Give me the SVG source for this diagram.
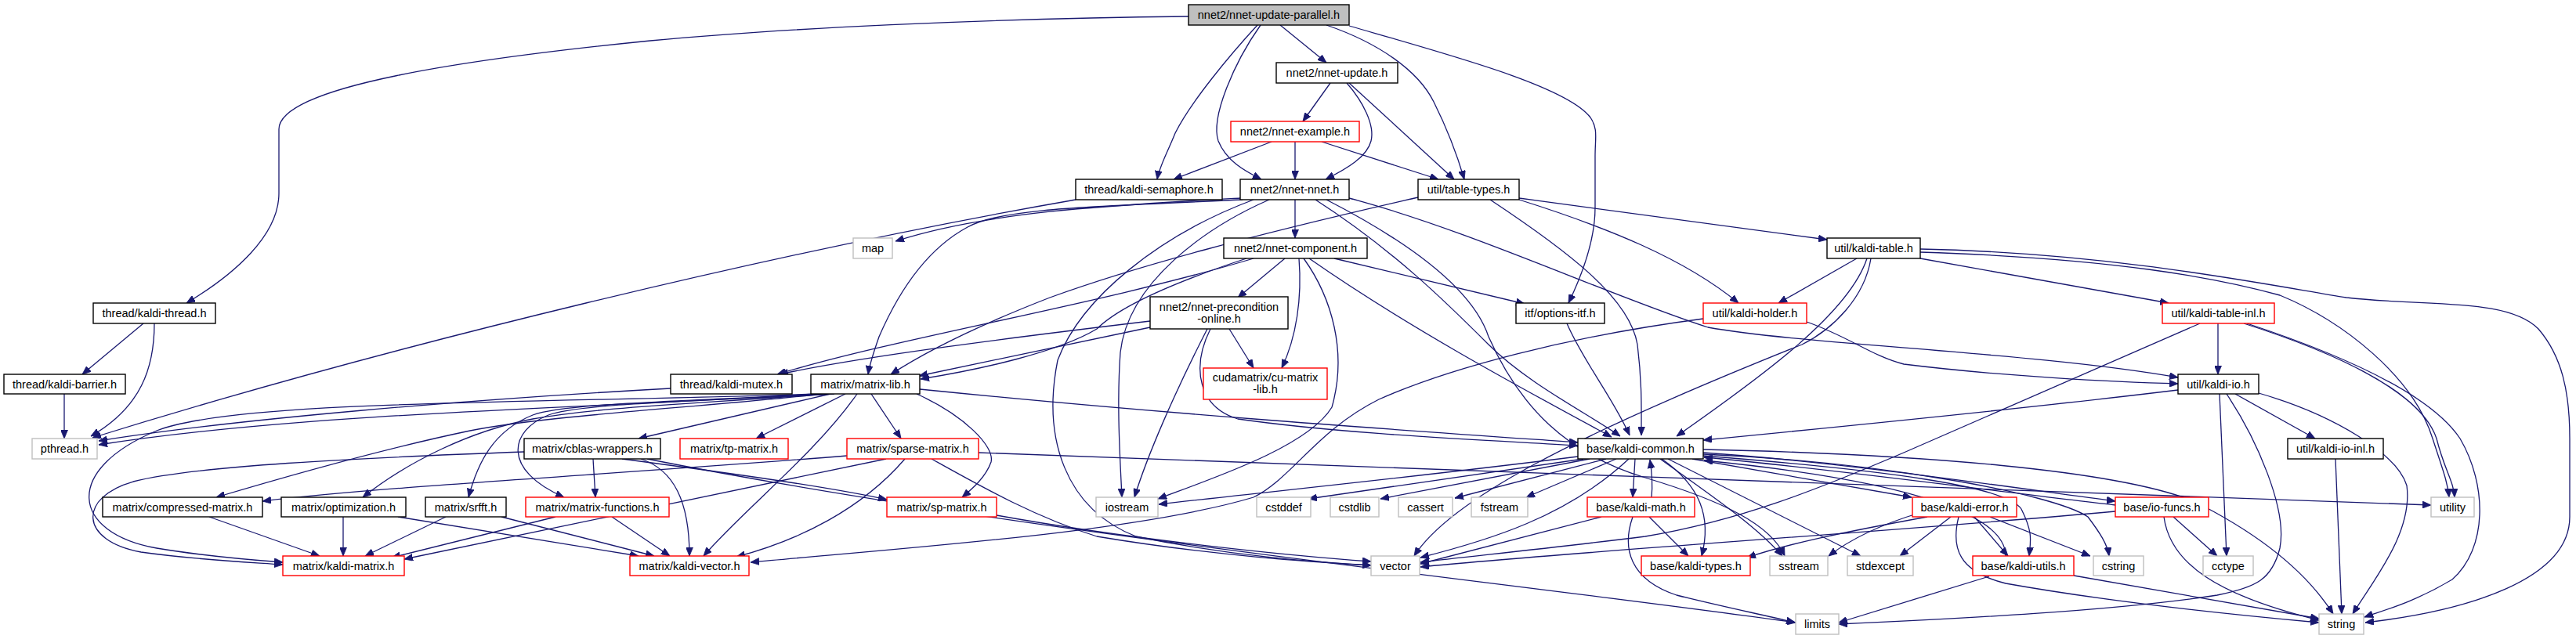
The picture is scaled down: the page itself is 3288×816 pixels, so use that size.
<svg xmlns="http://www.w3.org/2000/svg" width="3288" height="816" viewBox="0 0 3288 816">
<defs>
<marker id="a" viewBox="0 0 11 9" refX="11" refY="4.5" markerWidth="11" markerHeight="9" markerUnits="userSpaceOnUse" orient="auto">
<path d="M0,0 L11,4.5 L0,9 z" fill="#191970" stroke="#191970" stroke-width="0.8"/>
</marker>
<style>
.e{fill:none;stroke:#191970;stroke-width:1.3;marker-end:url(#a)}
.b{fill:#fff;stroke:#000;stroke-width:1.4}
.r{fill:#fff;stroke:#f00;stroke-width:1.4}
.g{fill:#fff;stroke:#bfbfbf;stroke-width:1.4}
.rt{fill:#bfbfbf;stroke:#000;stroke-width:1.4}
text{font-family:"Liberation Sans",Arial,sans-serif;font-size:14.5px;text-anchor:middle;fill:#000}
</style>
</defs>
<rect width="3288" height="816" fill="#fff"/>
<g id="connectors">
<path class="e" d="M1517,21 C1250,24 1000,36 830,52 C600,75 356,110 356,165 L356,247 C356,300 300,350 238,387"/>
<path class="e" d="M1605,32 C1570,70 1520,130 1500,170 C1490,195 1480,212 1477,229"/>
<path class="e" d="M1609,32 C1575,80 1545,150 1555,180 C1565,205 1588,218 1610,229"/>
<path class="e" d="M1634,32 L1693,80"/>
<path class="e" d="M1693,32 C1760,55 1810,90 1830,130 C1850,170 1862,205 1869,229"/>
<path class="e" d="M1722,33 C1850,70 2000,110 2030,150 C2040,165 2036,175 2036,200 L2036,265 C2036,310 2015,360 2002,387"/>
<path class="e" d="M1698,106 L1663,155"/>
<path class="e" d="M1719,106 C1740,130 1755,160 1750,180 C1745,200 1720,215 1692,229"/>
<path class="e" d="M1722,106 L1856,229"/>
<path class="e" d="M1623,181 L1498,229"/>
<path class="e" d="M1653,181 L1653,229"/>
<path class="e" d="M1687,181 L1836,229"/>
<path class="e" d="M1373,255 C1000,320 500,440 118,559"/>
<path class="e" d="M1583,253 C1420,262 1260,270 1143,308"/>
<path class="e" d="M1586,255 C1400,264 1280,265 1235,290 C1170,325 1135,400 1122,430 C1115,450 1110,465 1108,478"/>
<path class="e" d="M1653,255 L1653,304"/>
<path class="e" d="M1620,255 C1540,290 1440,360 1430,450 C1425,520 1430,590 1432,635"/>
<path class="e" d="M1600,255 C1480,300 1380,380 1350,460 C1330,560 1360,650 1450,685 C1580,712 1690,718 1750,722"/>
<path class="e" d="M1679,255 C1780,320 1850,390 1900,440 C1950,490 2030,530 2068,557"/>
<path class="e" d="M1693,255 C1800,310 1880,370 1900,430 C1940,520 2000,580 2100,610 C2200,640 2260,670 2278,710"/>
<path class="e" d="M1722,253 C1880,295 2060,380 2180,418 C2300,440 2600,450 2780,482"/>
<path class="e" d="M1810,252 C1600,300 1450,340 1340,380 C1250,415 1180,450 1137,478"/>
<path class="e" d="M1902,255 C2000,320 2080,380 2090,440 C2096,490 2095,520 2095,556"/>
<path class="e" d="M1939,255 C2050,290 2150,330 2219,387"/>
<path class="e" d="M1939,253 L2332,306"/>
<path class="e" d="M1600,330 C1400,390 1150,430 992,478"/>
<path class="e" d="M1591,330 C1500,360 1430,390 1400,420 C1350,450 1250,472 1175,484"/>
<path class="e" d="M1640,330 L1580,380"/>
<path class="e" d="M1658,330 C1662,380 1655,430 1636,470"/>
<path class="e" d="M1664,330 C1700,380 1720,450 1700,520 C1670,570 1550,610 1478,637"/>
<path class="e" d="M1671,330 C1800,420 1950,500 2057,558"/>
<path class="e" d="M1703,330 L1946,388"/>
<path class="e" d="M2370,330 L2270,387"/>
<path class="e" d="M2451,330 L2768,387"/>
<path class="e" d="M2383,330 C2360,400 2250,480 2140,557"/>
<path class="e" d="M2388,330 C2380,380 2340,420 2300,440 C2000,560 1850,640 1805,710"/>
<path class="e" d="M2451,322 C2700,330 2830,355 2910,377 C2990,410 3080,480 3105,560 C3118,600 3124,615 3126,635"/>
<path class="e" d="M2451,318 C2700,323 2900,365 2995,380 C3100,392 3200,380 3240,420 C3270,455 3280,500 3280,560 L3280,660 C3280,740 3150,780 3019,795"/>
<path class="e" d="M183,413 L105,478"/>
<path class="e" d="M197,413 C197,470 180,520 116,557"/>
<path class="e" d="M1468,410 C1300,430 1100,455 995,478"/>
<path class="e" d="M1468,418 L1173,480"/>
<path class="e" d="M1569,420 L1600,470"/>
<path class="e" d="M1541,420 C1500,500 1465,580 1448,635"/>
<path class="e" d="M1545,420 C1520,470 1530,520 1580,535 C1720,555 1900,562 2014,569"/>
<path class="e" d="M2000,413 C2020,460 2060,510 2080,556"/>
<path class="e" d="M2306,411 C2360,430 2390,455 2430,465 C2550,480 2700,488 2780,490"/>
<path class="e" d="M2174,407 C2000,430 1850,470 1760,510 C1680,550 1650,610 1600,635 C1450,680 1150,700 958,718"/>
<path class="e" d="M2831,413 L2831,478"/>
<path class="e" d="M2808,413 L2430,578 C2320,625 2220,665 2100,685 C1980,700 1880,710 1813,718"/>
<path class="e" d="M2864,413 C2980,450 3090,500 3110,560 C3120,600 3132,615 3133,635"/>
<path class="e" d="M2868,413 C2980,450 3100,500 3140,560 C3175,620 3175,700 3130,740 C3080,770 3040,780 3018,788"/>
<path class="e" d="M82,503 L82,560"/>
<path class="e" d="M856,496 C600,510 300,535 126,563"/>
<path class="e" d="M1040,503 C800,520 400,525 126,568"/>
<path class="e" d="M1060,503 L815,560"/>
<path class="e" d="M1079,503 L965,560"/>
<path class="e" d="M1112,503 L1150,560"/>
<path class="e" d="M1050,503 C900,520 700,530 600,550 C480,575 360,610 276,635"/>
<path class="e" d="M1055,503 C900,515 760,520 680,535 C600,550 520,590 463,635"/>
<path class="e" d="M1060,503 C880,512 720,515 680,530 C630,550 610,590 598,635"/>
<path class="e" d="M1065,503 C900,512 740,515 700,530 C650,550 640,600 720,635"/>
<path class="e" d="M1045,503 C700,515 300,510 200,550 C80,600 90,680 200,700 C260,710 320,715 361,718"/>
<path class="e" d="M1094,503 C1040,580 950,650 898,710"/>
<path class="e" d="M1170,503 C1230,530 1270,570 1265,590 C1258,610 1240,625 1228,635"/>
<path class="e" d="M1174,497 C1500,530 1800,550 2014,565"/>
<path class="e" d="M2780,498 C2600,520 2400,540 2174,562"/>
<path class="e" d="M2833,503 L2842,710"/>
<path class="e" d="M2842,503 C2880,560 2920,650 2910,700 C2900,740 2880,750 2830,760 C2700,780 2500,790 2347,797"/>
<path class="e" d="M2853,503 L2955,560"/>
<path class="e" d="M2883,502 C2980,530 3060,580 3072,620 C3080,680 3030,740 3003,784"/>
<path class="e" d="M669,577 C450,585 250,595 170,615 C100,635 100,690 180,705 C250,715 320,718 361,721"/>
<path class="e" d="M757,586 L760,635"/>
<path class="e" d="M794,586 C900,600 1050,620 1132,638"/>
<path class="e" d="M818,586 C860,600 880,640 880,710"/>
<path class="e" d="M826,586 C1300,680 1900,740 2292,795"/>
<path class="e" d="M1081,582 C800,605 500,620 335,640"/>
<path class="e" d="M1131,586 L516,714"/>
<path class="e" d="M1155,586 C1100,650 1020,690 940,711"/>
<path class="e" d="M1189,586 C1250,620 1320,660 1400,685 C1550,710 1680,718 1750,722"/>
<path class="e" d="M1249,578 C1800,600 2600,625 3103,645"/>
<path class="e" d="M267,660 L408,710"/>
<path class="e" d="M438,660 L438,710"/>
<path class="e" d="M508,660 L815,710"/>
<path class="e" d="M569,660 L466,710"/>
<path class="e" d="M640,660 L835,710"/>
<path class="e" d="M709,660 L500,712"/>
<path class="e" d="M781,660 L855,710"/>
<path class="e" d="M1272,658 C1450,690 1650,710 1750,717"/>
<path class="e" d="M2021,586 L1670,637"/>
<path class="e" d="M2029,586 L1762,637"/>
<path class="e" d="M2050,586 L1857,636"/>
<path class="e" d="M2063,586 L1948,635"/>
<path class="e" d="M2087,586 L2084,635"/>
<path class="e" d="M2079,586 C2000,660 1900,690 1813,712"/>
<path class="e" d="M2121,586 C2170,620 2185,660 2172,710"/>
<path class="e" d="M2119,586 C2180,630 2240,670 2275,710"/>
<path class="e" d="M2129,586 L2375,710"/>
<path class="e" d="M2014,583 C1800,610 1600,630 1479,644"/>
<path class="e" d="M2174,578 C2350,590 2550,620 2700,640"/>
<path class="e" d="M2160,586 L2440,635"/>
<path class="e" d="M2174,582 C2400,600 2560,620 2580,650 C2595,680 2592,690 2590,710"/>
<path class="e" d="M2174,580 C2400,590 2620,630 2665,660 C2680,680 2690,695 2692,710"/>
<path class="e" d="M2174,574 C2450,580 2700,600 2800,640 C2900,690 2950,740 2978,784"/>
<path class="e" d="M2700,645 C2550,628 2350,600 2175,584"/>
<path class="e" d="M2560,710 C2560,660 2450,615 2175,588"/>
<path class="e" d="M2108,635 C2110,615 2108,600 2106,587"/>
<path class="e" d="M2044,660 L1813,720"/>
<path class="e" d="M2105,660 L2155,710"/>
<path class="e" d="M2084,660 C2070,700 2080,740 2140,760 C2200,775 2250,785 2291,795"/>
<path class="e" d="M2490,660 L2425,710"/>
<path class="e" d="M2520,660 L2563,710"/>
<path class="e" d="M2540,660 L2668,710"/>
<path class="e" d="M2500,660 C2490,700 2500,730 2560,745 C2700,770 2850,785 2960,795"/>
<path class="e" d="M2460,660 C2350,680 2280,695 2230,712"/>
<path class="e" d="M2450,655 C2400,670 2360,690 2334,710"/>
<path class="e" d="M2774,660 L2830,710"/>
<path class="e" d="M2762,660 C2770,720 2830,760 2960,792"/>
<path class="e" d="M2700,653 C2400,680 2000,705 1813,724"/>
<path class="e" d="M2539,736 L2347,795"/>
<path class="e" d="M2647,735 L2960,790"/>
<path class="e" d="M2981,586 L2989,784"/>
</g>
<g id="root"><rect class="rt" x="1517" y="6" width="205" height="26"/><text x="1619.5" y="24">nnet2/nnet-update-parallel.h</text></g>
<g id="nnet-update"><rect class="b" x="1629" y="80" width="155" height="26"/><text x="1706.5" y="98">nnet2/nnet-update.h</text></g>
<g id="nnet-example"><rect class="r" x="1571" y="155" width="164" height="26"/><text x="1653" y="173">nnet2/nnet-example.h</text></g>
<g id="kaldi-semaphore"><rect class="b" x="1373" y="229" width="187" height="26"/><text x="1466.5" y="247">thread/kaldi-semaphore.h</text></g>
<g id="nnet-nnet"><rect class="b" x="1583" y="229" width="139" height="26"/><text x="1652.5" y="247">nnet2/nnet-nnet.h</text></g>
<g id="table-types"><rect class="b" x="1810" y="229" width="129" height="26"/><text x="1874.5" y="247">util/table-types.h</text></g>
<g id="map"><rect class="g" x="1089" y="304" width="50" height="26"/><text x="1114" y="322">map</text></g>
<g id="nnet-component"><rect class="b" x="1562" y="304" width="183" height="26"/><text x="1653.5" y="322">nnet2/nnet-component.h</text></g>
<g id="kaldi-table"><rect class="b" x="2332" y="304" width="119" height="26"/><text x="2391.5" y="322">util/kaldi-table.h</text></g>
<g id="kaldi-thread"><rect class="b" x="119" y="387" width="156" height="26"/><text x="197" y="405">thread/kaldi-thread.h</text></g>
<g id="nnet-precondition-online"><rect class="b" x="1468" y="379" width="176" height="41"/><text x="1556" y="397">nnet2/nnet-precondition</text><text x="1556" y="412">-online.h</text></g>
<g id="options-itf"><rect class="b" x="1935" y="387" width="113" height="26"/><text x="1991.5" y="405">itf/options-itf.h</text></g>
<g id="kaldi-holder"><rect class="r" x="2174" y="387" width="132" height="26"/><text x="2240" y="405">util/kaldi-holder.h</text></g>
<g id="kaldi-table-inl"><rect class="r" x="2760" y="387" width="143" height="26"/><text x="2831.5" y="405">util/kaldi-table-inl.h</text></g>
<g id="kaldi-barrier"><rect class="b" x="5" y="478" width="155" height="25"/><text x="82.5" y="495.5">thread/kaldi-barrier.h</text></g>
<g id="kaldi-mutex"><rect class="b" x="856" y="478" width="155" height="25"/><text x="933.5" y="495.5">thread/kaldi-mutex.h</text></g>
<g id="matrix-lib"><rect class="b" x="1035" y="478" width="139" height="25"/><text x="1104.5" y="495.5">matrix/matrix-lib.h</text></g>
<g id="cu-matrix-lib"><rect class="r" x="1536" y="470" width="158" height="40"/><text x="1615" y="487">cudamatrix/cu-matrix</text><text x="1615" y="502">-lib.h</text></g>
<g id="kaldi-io"><rect class="b" x="2780" y="478" width="103" height="25"/><text x="2831.5" y="495.5">util/kaldi-io.h</text></g>
<g id="pthread"><rect class="g" x="41" y="560" width="83" height="26"/><text x="82.5" y="578">pthread.h</text></g>
<g id="cblas-wrappers"><rect class="b" x="669" y="560" width="174" height="26"/><text x="756" y="578">matrix/cblas-wrappers.h</text></g>
<g id="tp-matrix"><rect class="r" x="868" y="560" width="138" height="26"/><text x="937" y="578">matrix/tp-matrix.h</text></g>
<g id="sparse-matrix"><rect class="r" x="1081" y="560" width="168" height="26"/><text x="1165" y="578">matrix/sparse-matrix.h</text></g>
<g id="kaldi-common"><rect class="b" x="2014" y="560" width="160" height="26"/><text x="2094" y="578">base/kaldi-common.h</text></g>
<g id="kaldi-io-inl"><rect class="b" x="2920" y="560" width="122" height="26"/><text x="2981" y="578">util/kaldi-io-inl.h</text></g>
<g id="compressed-matrix"><rect class="b" x="131" y="635" width="204" height="25"/><text x="233" y="652.5">matrix/compressed-matrix.h</text></g>
<g id="optimization"><rect class="b" x="359" y="635" width="159" height="25"/><text x="438.5" y="652.5">matrix/optimization.h</text></g>
<g id="srfft"><rect class="b" x="543" y="635" width="103" height="25"/><text x="594.5" y="652.5">matrix/srfft.h</text></g>
<g id="matrix-functions"><rect class="r" x="671" y="635" width="183" height="25"/><text x="762.5" y="652.5">matrix/matrix-functions.h</text></g>
<g id="sp-matrix"><rect class="r" x="1132" y="635" width="140" height="25"/><text x="1202" y="652.5">matrix/sp-matrix.h</text></g>
<g id="iostream"><rect class="g" x="1399" y="635" width="79" height="25"/><text x="1438.5" y="652.5">iostream</text></g>
<g id="cstddef"><rect class="g" x="1604" y="635" width="69" height="25"/><text x="1638.5" y="652.5">cstddef</text></g>
<g id="cstdlib"><rect class="g" x="1698" y="635" width="62" height="25"/><text x="1729" y="652.5">cstdlib</text></g>
<g id="cassert"><rect class="g" x="1785" y="635" width="69" height="25"/><text x="1819.5" y="652.5">cassert</text></g>
<g id="fstream"><rect class="g" x="1878" y="635" width="72" height="25"/><text x="1914" y="652.5">fstream</text></g>
<g id="kaldi-math"><rect class="r" x="2026" y="635" width="137" height="25"/><text x="2094.5" y="652.5">base/kaldi-math.h</text></g>
<g id="kaldi-error"><rect class="r" x="2441" y="635" width="133" height="25"/><text x="2507.5" y="652.5">base/kaldi-error.h</text></g>
<g id="io-funcs"><rect class="r" x="2700" y="635" width="119" height="25"/><text x="2759.5" y="652.5">base/io-funcs.h</text></g>
<g id="utility"><rect class="g" x="3103" y="635" width="55" height="25"/><text x="3130.5" y="652.5">utility</text></g>
<g id="kaldi-matrix"><rect class="r" x="361" y="710" width="155" height="25"/><text x="438.5" y="727.5">matrix/kaldi-matrix.h</text></g>
<g id="kaldi-vector"><rect class="r" x="804" y="710" width="152" height="25"/><text x="880" y="727.5">matrix/kaldi-vector.h</text></g>
<g id="vector"><rect class="g" x="1750" y="710" width="62" height="25"/><text x="1781" y="727.5">vector</text></g>
<g id="kaldi-types"><rect class="r" x="2095" y="710" width="139" height="25"/><text x="2164.5" y="727.5">base/kaldi-types.h</text></g>
<g id="sstream"><rect class="g" x="2259" y="710" width="74" height="25"/><text x="2296" y="727.5">sstream</text></g>
<g id="stdexcept"><rect class="g" x="2358" y="710" width="84" height="25"/><text x="2400" y="727.5">stdexcept</text></g>
<g id="kaldi-utils"><rect class="r" x="2518" y="710" width="129" height="25"/><text x="2582.5" y="727.5">base/kaldi-utils.h</text></g>
<g id="cstring"><rect class="g" x="2672" y="710" width="64" height="25"/><text x="2704" y="727.5">cstring</text></g>
<g id="cctype"><rect class="g" x="2812" y="710" width="64" height="25"/><text x="2844" y="727.5">cctype</text></g>
<g id="limits"><rect class="g" x="2292" y="784" width="55" height="26"/><text x="2319.5" y="802">limits</text></g>
<g id="string"><rect class="g" x="2960" y="784" width="57" height="26"/><text x="2988.5" y="802">string</text></g>
</svg>
